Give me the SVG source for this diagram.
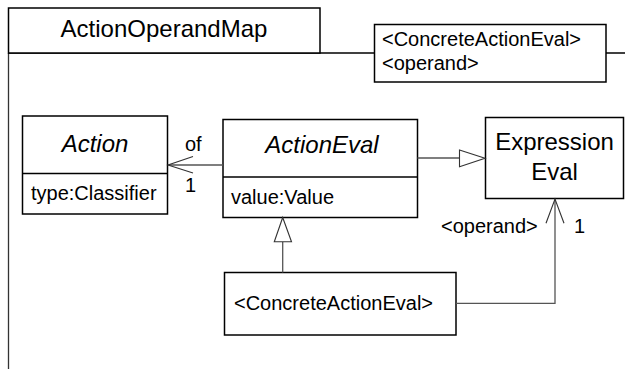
<svg xmlns="http://www.w3.org/2000/svg" width="625" height="369" viewBox="0 0 625 369">
<style>
.box{fill:#fff;stroke:#000;stroke-width:1.5}
.ln{fill:none;stroke:#000;stroke-width:1.3}
.con{fill:none;stroke:#555;stroke-width:1.3}
.head{fill:#fff;stroke:#333;stroke-width:1.1}
.t{font-family:"Liberation Sans",Arial,sans-serif;font-size:20px;fill:#000}
.big{font-size:24px}
.it{font-style:italic}
</style>
<g id="package">
<line class="ln" x1="8.5" y1="53" x2="8.5" y2="369" style="stroke:#333"/>
<line class="ln" x1="8" y1="53" x2="625" y2="53"/>
<rect class="box" x="8.5" y="8" width="311.5" height="45"/>
<text class="t big" x="164" y="37" text-anchor="middle">ActionOperandMap</text>
</g>
<g id="template">
<rect class="box" x="374.5" y="24.5" width="231.5" height="57.5"/>
<text class="t" x="382" y="46">&lt;ConcreteActionEval&gt;</text>
<text class="t" x="382" y="70">&lt;operand&gt;</text>
</g>
<g id="Action">
<rect class="box" x="22.5" y="116" width="145" height="98"/>
<line class="ln" x1="22.5" y1="173.5" x2="167.5" y2="173.5"/>
<text class="t big it" x="95" y="152" text-anchor="middle">Action</text>
<text class="t" x="31" y="200">type:Classifier</text>
</g>
<g id="ActionEval">
<rect class="box" x="223" y="119.5" width="194.5" height="98"/>
<line class="ln" x1="223" y1="177" x2="417.5" y2="177"/>
<text class="t big it" x="322" y="153" text-anchor="middle">ActionEval</text>
<text class="t" x="231" y="204">value:Value</text>
</g>
<g id="ExpressionEval">
<rect class="box" x="485.5" y="117.5" width="138" height="81"/>
<text class="t big" x="554.5" y="150" text-anchor="middle">Expression</text>
<text class="t big" x="554.5" y="180" text-anchor="middle">Eval</text>
</g>
<g id="ConcreteActionEval">
<rect class="box" x="224.5" y="272.5" width="231.5" height="62.5"/>
<text class="t" x="234" y="310">&lt;ConcreteActionEval&gt;</text>
</g>
<g id="connectors">
<line class="con" x1="223" y1="165" x2="168" y2="165"/>
<polyline class="head" style="fill:none" points="193,156.5 168,165 193,173"/>
<text class="t" x="185" y="151">of</text>
<text class="t" x="185" y="192">1</text>
<line class="con" x1="417.5" y1="158" x2="459.5" y2="158"/>
<polygon class="head" points="459.5,150 485,158.3 459.5,166.7"/>
<line class="con" x1="282.7" y1="272.5" x2="282.7" y2="241.7"/>
<polygon class="head" points="274.3,241.7 282.7,217.5 291.5,241.7"/>
<polyline class="con" points="456,303.3 555,303.3 555,199"/>
<polyline class="head" style="fill:none" points="546,223.3 555,199 564,223.3"/>
<text class="t" x="441" y="233">&lt;operand&gt;</text>
<text class="t" x="574" y="233">1</text>
</g>
</svg>
